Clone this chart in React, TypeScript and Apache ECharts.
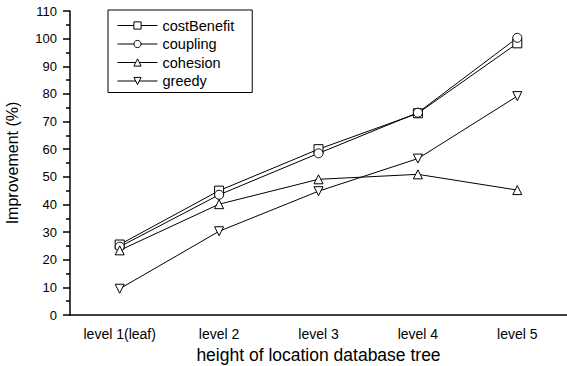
import React, { useEffect, useRef } from "react";
import * as echarts from "echarts";

const categories = ["level 1(leaf)", "level 2", "level 3", "level 4", "level 5"];
const costBenefit = [25.5, 45, 60, 73, 98.3];
const coupling = [24.7, 43.5, 58.5, 73.2, 100.3];
const cohesion = [23.4, 40.1, 49.1, 50.9, 45.2];
const greedy = [9.5, 30.3, 44.8, 56.6, 79.2];
const yTicks = { min: 0, max: 110, interval: 10 };

const FONT = "Liberation Sans, Arial, sans-serif";

export default function App() {
  const ref = useRef<HTMLDivElement>(null);

  useEffect(() => {
    if (!ref.current) return;
    const chart = echarts.init(ref.current, undefined, { renderer: "svg" });

    const lineSeries = (name: string, data: number[], symbol: string, rotate = 0) => ({
      name,
      type: "line",
      data,
      symbol,
      symbolSize: 9,
      symbolRotate: rotate,
      showAllSymbol: true,
      lineStyle: { color: "#000", width: 1 },
      itemStyle: { color: "#fff", borderColor: "#000", borderWidth: 1 },
      z: 3,
    });

    chart.setOption({
      animation: false,
      backgroundColor: "#fff",
      textStyle: { fontFamily: FONT, color: "#000" },
      grid: {
        left: 70,
        right: 0,
        top: 11,
        bottom: 51,
        containLabel: false,
        outerBoundsMode: "none",
      },
      legend: {
        orient: "vertical",
        left: 108,
        top: 10,
        padding: [8, 18, 4, 9],
        itemWidth: 40,
        itemHeight: 9,
        itemGap: 3.5,
        borderColor: "#000",
        borderWidth: 1,
        backgroundColor: "#fff",
        lineStyle: { width: 1, color: "#000" },
        itemStyle: { borderWidth: 1 },
        textStyle: { fontFamily: FONT, fontSize: 14.5, color: "#000" },
        data: ["costBenefit", "coupling", "cohesion", "greedy"],
      },
      xAxis: [
        {
          type: "category",
          data: categories,
          boundaryGap: true,
          position: "bottom",
          name: "height of location database tree",
          nameLocation: "middle",
          nameGap: 29,
          nameTextStyle: { fontFamily: FONT, fontSize: 17.5, color: "#000" },
          axisLine: { lineStyle: { color: "#000", width: 1.5 } },
          axisTick: { alignWithLabel: true, length: 6, lineStyle: { color: "#000", width: 1.5 } },
          axisLabel: { fontFamily: FONT, fontSize: 14, color: "#000", margin: 12 },
          splitLine: { show: false },
        },
        {
          type: "category",
          data: categories,
          boundaryGap: true,
          position: "bottom",
          axisLine: { show: false },
          axisTick: { length: 4, lineStyle: { color: "#000", width: 1.5 } },
          axisLabel: { show: false },
          splitLine: { show: false },
        },
      ],
      yAxis: {
        type: "value",
        min: yTicks.min,
        max: yTicks.max,
        interval: yTicks.interval,
        name: "Improvement (%)",
        nameLocation: "middle",
        nameRotate: 90,
        nameGap: 50,
        nameTextStyle: { fontFamily: FONT, fontSize: 16, color: "#000" },
        axisLine: { show: true, lineStyle: { color: "#000", width: 1.5 } },
        axisTick: { show: true, length: 7, lineStyle: { color: "#000", width: 1.5 } },
        minorTick: { show: true, splitNumber: 2, length: 4, lineStyle: { color: "#000", width: 1.5 } },
        axisLabel: { fontFamily: FONT, fontSize: 13, color: "#000", margin: 13 },
        splitLine: { show: false },
      },
      series: [
        lineSeries("costBenefit", costBenefit, "rect"),
        lineSeries("coupling", coupling, "circle"),
        lineSeries("cohesion", cohesion, "triangle"),
        lineSeries("greedy", greedy, "triangle", 180),
      ],
    });

    return () => chart.dispose();
  }, []);

  return <div ref={ref} style={{ width: 567, height: 366, position: "absolute", left: 0, top: 0 }} />;
}
